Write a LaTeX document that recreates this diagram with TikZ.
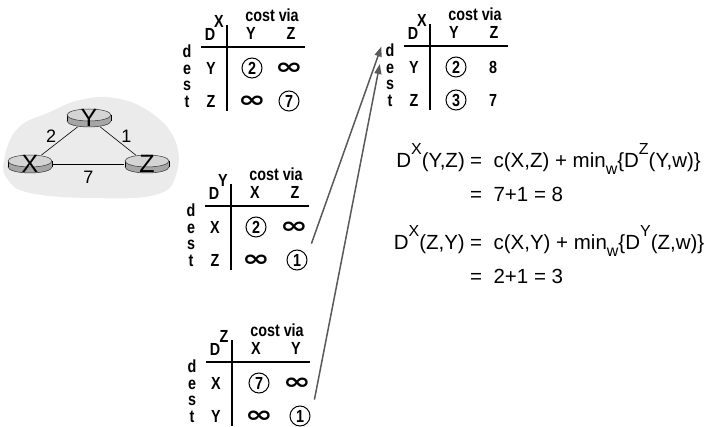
\documentclass[tikz,border=0pt]{standalone}
\usepackage{fontspec}
\setmainfont{Liberation Sans}
\newfontfamily\tabsans[FakeStretch=0.82]{Liberation Sans}
\newfontfamily\symsans{DejaVu Sans}
\usepackage{tikz}
\usetikzlibrary{positioning, calc, arrows.meta, shapes.geometric}

% router: #1 name, #2 centre, #3 label
\newcommand{\router}[3]{%
  \filldraw[routerside] ($(#2)+(0,3)$) ellipse [x radius=22pt, y radius=6pt];
  \fill[routerside, draw=none] ($(#2)+(-22,-3)$) rectangle ($(#2)+(22,3)$);
  \draw[line width=0.5pt] ($(#2)+(-22,-3)$) -- ++(0,6) ($(#2)+(22,-3)$) -- ++(0,6);
  \filldraw[routertop] ($(#2)+(0,-3)$) ellipse [x radius=22pt, y radius=6pt];
  \node[routernode=#3] (#1) at (#2) {};
}

% distance table: #1 prefix, #2 owner, #3 #4 via, #5 #6 dest
\newcommand{\dvtable}[6]{%
  \node[tab] (#1cv) at (45,-53) {cost via};
  \node[tab] (#1D) at (-17,-34) {D};
  \node[tab] (#1o) at (-8,-47) {#2};
  \node[tab] (#1h1) at (24,-35) {#3};
  \node[tab] (#1h2) at (64,-35) {#4};
  \draw[rule] (-26,-21) -- (78,-21);
  \draw[rule] (0,-43) -- (0,43);
  \node[tab] (#1d) at (-40,-16.5) {d};
  \node[tab] (#1e) at (-40,0) {e};
  \node[tab] (#1s) at (-40,16.5) {s};
  \node[tab] (#1t) at (-40,33) {t};
  \node[tab] (#1r1) at (-16,0) {#5};
  \node[tab] (#1r2) at (-16,33) {#6};
}

\newcommand{\infcell}{\scalebox{1.9}[1.3]{\symsans\bfseries ∞}}
\newcommand{\hsup}[1]{\raisebox{0.68em}{\fontsize{16}{16}\selectfont #1}}
\newcommand{\hsub}[1]{\raisebox{-0.3em}{\fontsize{16}{16}\selectfont #1}}

\begin{document}
\begin{tikzpicture}[x=1pt, y=-1pt,
  cloud/.style={fill=black!8},
  routerside/.style={fill=black!35, draw=black!80, line width=0.5pt},
  routertop/.style={fill=black!17, draw=black!80, line width=0.5pt},
  routernode/.style={ellipse, minimum width=46pt, minimum height=20pt, inner sep=0pt,
    label={[font=\fontsize{25}{25}\selectfont]center:#1}},
  link/.style={line width=0.6pt},
  wt/.style={font=\fontsize{18}{18}\selectfont, inner sep=1pt},
  tab/.style={font=\fontsize{17.5}{17.5}\selectfont\tabsans\bfseries, inner sep=0pt, text height=12.5pt, text depth=0pt},
  best/.style={tab, circle, draw, line width=1pt, minimum size=20pt},
  rule/.style={line width=1.8pt},
  upd/.style={-{Triangle[length=10pt, width=7pt]}, line width=1.5pt, draw=black!65, fill=black!65},
  eqn/.style={font=\fontsize{20.5}{20.5}\selectfont, inner sep=0pt}]
\useasboundingbox (0,0) rectangle (706,427);

% network
\fill[cloud] plot[smooth cycle, tension=0.7] coordinates {(4,160) (18,128) (50,112) (80,100)
  (115,98) (150,112) (175,140) (176,175) (155,195) (90,198) (30,193) (8,180)};
\router{Y}{89,118}{Y}
\router{X}{30,164}{X}
\router{Z}{147,164}{Z}
\draw[link] (X) -- node[wt, above left=-3pt and 2pt] (wxy) {2} (Y);
\draw[link] (Y) -- node[wt, above right=-3pt and 2pt] (wyz) {1} (Z);
\draw[link] (X) -- node[wt, below=6pt] (wxz) {7} (Z);

% D^X before
\begin{scope}[shift={(227,68)}]
\dvtable{xa}{X}{Y}{Z}{Y}{Z}
\node[best] (xa11) at (25,0) {2};
\node[tab] (xa12) at (62,0) {\infcell};
\node[tab] (xa21) at (25,33) {\infcell};
\node[best] (xa22) at (62,33) {7};
\end{scope}

% D^Y
\begin{scope}[shift={(231,227)}]
\dvtable{y}{Y}{X}{Z}{X}{Z}
\node[best] (y11) at (25,0) {2};
\node[tab] (y12) at (63,0) {\infcell};
\node[tab] (y21) at (25,33) {\infcell};
\node[best] (y22) at (66,33) {1};
\end{scope}

% D^Z
\begin{scope}[shift={(232,383)}]
\dvtable{z}{Z}{X}{Y}{X}{Y}
\node[best] (z11) at (27,0) {7};
\node[tab] (z12) at (65,0) {\infcell};
\node[tab] (z21) at (27,33) {\infcell};
\node[best] (z22) at (68,33) {1};
\end{scope}

% D^X after
\begin{scope}[shift={(430,67)}]
\dvtable{xb}{X}{Y}{Z}{Y}{Z}
\node[best] (xb11) at (26,0) {2};
\node[tab] (xb12) at (63,0) {8};
\node[best] (xb21) at (26,33) {3};
\node[tab] (xb22) at (63,33) {7};
\end{scope}

% updates sent to X
\draw[upd] ([xshift=7pt, yshift=9pt]y22.north east) -- ([xshift=-4pt, yshift=4pt]xbd.west);
\draw[upd] ([xshift=7pt, yshift=9pt]z22.north east) -- ([xshift=-6pt, yshift=3pt]xbe.west);

% equations
\node[eqn, anchor=base east] (f1l) at (465,168) {D\hsup{X}(Y,Z)};
\node[eqn, anchor=base west] (f1r) at (470,168) {=\ \ c(X,Z) + min\hsub{w}\{D\hsup{Z}(Y,w)\}};
\node[eqn, anchor=base west] (f2) at ([yshift=-34pt]f1r.base west) {=\ \ 7+1 = 8};
\node[eqn, anchor=base east] (f3l) at (465,250) {D\hsup{X}(Z,Y)};
\node[eqn, anchor=base west] (f3r) at (470,250) {=\ \ c(X,Y) + min\hsub{w}\{D\hsup{Y}(Z,w)\}};
\node[eqn, anchor=base west] (f4) at ([yshift=-34pt]f3r.base west) {=\ \ 2+1 = 3};
\end{tikzpicture}
\end{document}
